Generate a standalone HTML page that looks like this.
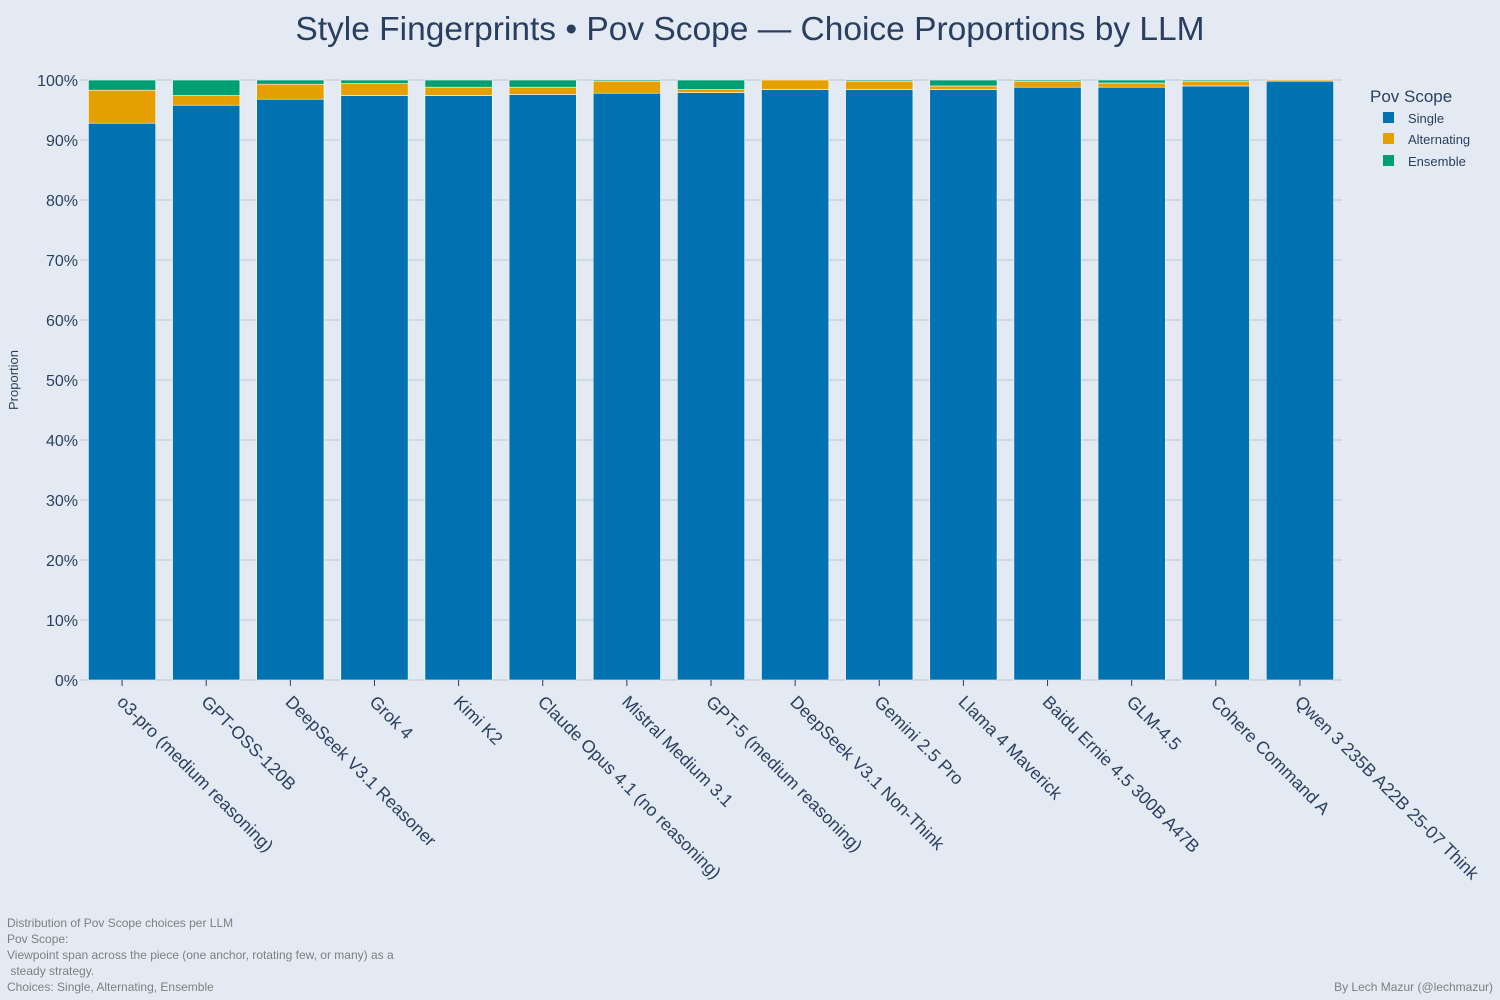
<!DOCTYPE html>
<html><head><meta charset="utf-8">
<style>
body{margin:0;background:#e3eaf3;font-family:"Liberation Sans",sans-serif;}
svg{display:block}
</style></head>
<body>
<svg id="chart" width="1500" height="1000">
<rect width="1500" height="1000" fill="#e3eaf3"/>
<text x="750" y="40" text-anchor="middle" font-size="33.5" fill="#2a3f5f">Style Fingerprints • Pov Scope — Choice Proportions by LLM</text>
<g id="grid"></g>
<g id="bars"></g>
<g id="xlabels"></g>
<text transform="translate(18,380) rotate(-90)" text-anchor="middle" font-size="13" fill="#2a3f5f">Proportion</text>
<g>
<text x="1370" y="102" font-size="17" fill="#2a3f5f">Pov Scope</text>
<g><rect x="1383" y="112" width="11" height="11" fill="#0072b2"/><text x="1408" y="123" font-size="13" fill="#2a3f5f">Single</text></g>
<g><rect x="1383" y="133" width="11" height="11" fill="#e69f00"/><text x="1408" y="144" font-size="13" fill="#2a3f5f">Alternating</text></g>
<g><rect x="1383" y="155" width="11" height="11" fill="#009e73"/><text x="1408" y="166" font-size="13" fill="#2a3f5f">Ensemble</text></g>
</g>
<g font-size="12" fill="#7f7f7f">
<text x="7" y="927">Distribution of Pov Scope choices per LLM</text>
<text x="7" y="943">Pov Scope:</text>
<text x="7" y="959">Viewpoint span across the piece (one anchor, rotating few, or many) as a</text>
<text x="7" y="975" xml:space="preserve"> steady strategy.</text>
<text x="7" y="991">Choices: Single, Alternating, Ensemble</text>
</g>
<text x="1493" y="991" text-anchor="end" font-size="12" fill="#7f7f7f">By Lech Mazur (@lechmazur)</text>
</svg>
<script>
const categories=["o3-pro (medium reasoning)","GPT-OSS-120B","DeepSeek V3.1 Reasoner","Grok 4","Kimi K2","Claude Opus 4.1 (no reasoning)","Mistral Medium 3.1","GPT-5 (medium reasoning)","DeepSeek V3.1 Non-Think","Gemini 2.5 Pro","Llama 4 Maverick","Baidu Ernie 4.5 300B A47B","GLM-4.5","Cohere Command A","Qwen 3 235B A22B 25-07 Think"];
const single=[92.8,95.8,96.8,97.4,97.4,97.6,97.8,97.9,98.4,98.4,98.4,98.8,98.8,99.0,99.8];
const alternating=[5.5,1.6,2.5,2.0,1.4,1.2,2.0,0.5,1.6,1.4,0.6,1.0,0.7,0.8,0.2];
const ensemble=[1.7,2.6,0.7,0.6,1.2,1.2,0.2,1.6,0.0,0.2,1.0,0.2,0.5,0.2,0.0];
const yTicks=[0,10,20,30,40,50,60,70,80,90,100];
const NS="http://www.w3.org/2000/svg";
const L=80,R=1342,T=80,B=680;
const step=(R-L)/categories.length;
const x=i=>L+step*(i+0.5);
const y=v=>B-(B-T)*v/100;
const bw=step*0.8;
const grid=document.getElementById('grid'),bars=document.getElementById('bars'),xl=document.getElementById('xlabels');
yTicks.forEach(t=>{
 const ln=document.createElementNS(NS,'line');
 
 
 ln.setAttribute('x1',L);ln.setAttribute('x2',R);ln.setAttribute('y1',y(t));ln.setAttribute('y2',y(t));
 ln.setAttribute('stroke','#c9d1db');ln.setAttribute('stroke-width','1.5');
 grid.appendChild(ln);
 const tx=document.createElementNS(NS,'text');
 
 
 tx.setAttribute('x',L-2);tx.setAttribute('y',y(t)+6);tx.setAttribute('text-anchor','end');
 tx.setAttribute('font-size','16');tx.setAttribute('fill','#2a3f5f');tx.textContent=t+'%';
 grid.appendChild(tx);
});
const series=[[single,'#0072b2','single'],[alternating,'#e69f00','alternating'],[ensemble,'#009e73','ensemble']];
categories.forEach((c,i)=>{
 let base=0;
 series.forEach(([arr,col,nm])=>{
  const v=arr[i];
  const r=document.createElementNS(NS,'rect');
  
  
  r.setAttribute('x',x(i)-bw/2);r.setAttribute('width',bw);
  r.setAttribute('y',y(base+v));r.setAttribute('height',Math.max(0,y(base)-y(base+v)));
  r.setAttribute('fill',col);r.setAttribute('stroke','#ffffff');r.setAttribute('stroke-width','0.6');
  bars.appendChild(r);
  base+=v;
 });
 const tk=document.createElementNS(NS,'line');
 
 
 tk.setAttribute('x1',x(i));tk.setAttribute('x2',x(i));tk.setAttribute('y1',B);tk.setAttribute('y2',B+6);
 tk.setAttribute('stroke','#2a3f5f');
 xl.appendChild(tk);
 const tx=document.createElementNS(NS,'text');
 
 
 tx.setAttribute('transform','translate('+(x(i)-6)+','+(B+23)+') rotate(45)');
 tx.setAttribute('font-size','17.6');tx.setAttribute('fill','#2a3f5f');tx.textContent=c;
 xl.appendChild(tx);
});
</script>
</body></html>
